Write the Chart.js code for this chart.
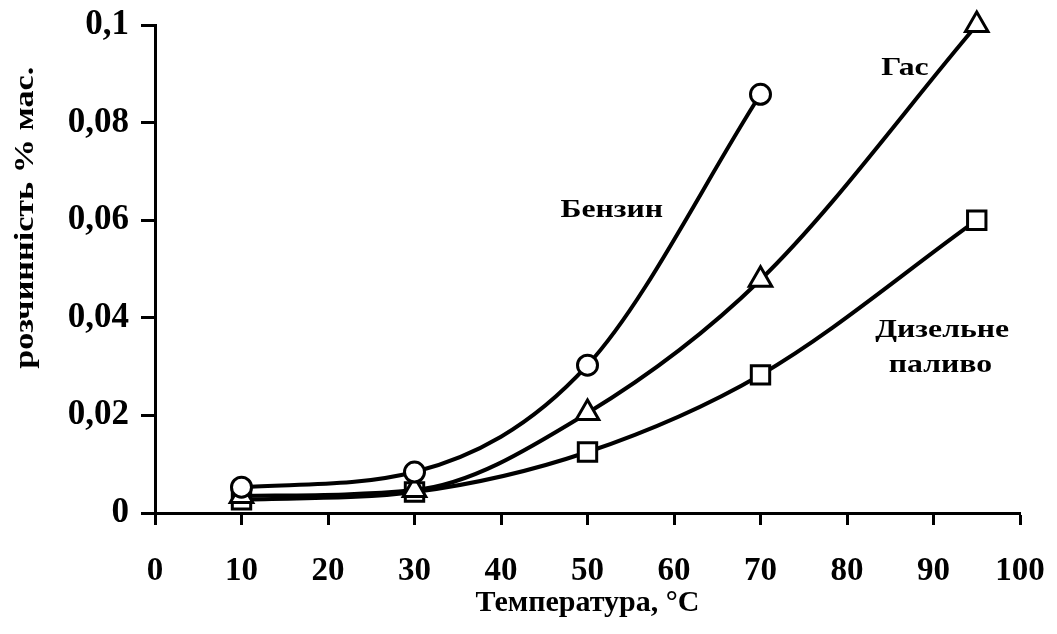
<!DOCTYPE html>
<html>
<head>
<meta charset="utf-8">
<script src="https://cdn.jsdelivr.net/npm/chart.js@4.4.0/dist/chart.umd.min.js"></script>
<style>
  html, body { margin: 0; padding: 0; background: #fff; }
  #wrap { width: 1057px; height: 634px; }
</style>
</head>
<body>
<div id="wrap"><canvas id="solChart" width="1057" height="634"></canvas></div>
<script>
// temperatures, °C
const tempPetrol = [10, 30, 50, 70];
const tempKerosene = [10, 30, 50, 70, 95];
const tempDiesel = [10, 30, 50, 70, 95];

// solubility, % mass
const petrol = [0.0053, 0.0084, 0.0303, 0.0858];
const kerosene = [0.0035, 0.0047, 0.0205, 0.0478, 0.1];
const diesel = [0.0027, 0.0043, 0.0125, 0.0283, 0.060];

const seriesNames = ['Бензин', 'Гас', 'Дизельне паливо'];

// curve labels inside the plot: text, x (°C), y (% mass)
const labelText = ['Бензин', 'Гас', 'Дизельне', 'паливо'];
const labelX = [52.8, 86.7, 91, 90.8];
const labelY = [0.0621, 0.0912, 0.0375, 0.0303];

const xTitle = 'Температура, °C';
const yTitle = 'розчинність % мас.';
const yTitleAt = 0.0605;   // where the rotated title is centred on the value axis

function pts(xs, ys) {
    return xs.map((x, i) => ({ x: x, y: ys[i] }));
}

const serif = '"Liberation Serif", "Times New Roman", serif';

// the scanned original has wide, stretched lettering; draw text a bit wider than the font
function wideText(ctx, text, x, y, stretch, angle) {
    ctx.save();
    ctx.translate(x, y);
    if (angle) ctx.rotate(angle);
    ctx.scale(stretch, 1);
    ctx.fillText(text, 0, 0);
    ctx.restore();
}

const curveLabels = {
    id: 'curveLabels',
    afterDatasetsDraw(chart) {
        const ctx = chart.ctx;
        const xs = chart.scales.x, ys = chart.scales.y;
        ctx.save();
        ctx.fillStyle = '#000';
        ctx.textAlign = 'center';
        ctx.textBaseline = 'middle';
        ctx.font = 'bold 26px ' + serif;
        labelText.forEach((t, i) => {
            wideText(ctx, t, xs.getPixelForValue(labelX[i]), ys.getPixelForValue(labelY[i]), 1.22, 0);
        });
        ctx.font = 'bold 28px ' + serif;
        wideText(ctx, yTitle, 26, ys.getPixelForValue(yTitleAt), 1.22, -Math.PI / 2);
        ctx.restore();
    }
};

function lineSet(label, data, style, r) {
    return {
        label: label,
        data: data,
        borderColor: '#000',
        borderWidth: 4,
        pointStyle: style,
        pointRadius: r,
        pointBorderWidth: 3,
        pointBackgroundColor: '#fff',
        pointBorderColor: '#000',
        cubicInterpolationMode: 'monotone',
        clip: false,
        fill: false
    };
}

new Chart(document.getElementById('solChart').getContext('2d'), {
    type: 'line',
    data: {
        datasets: [
            lineSet(seriesNames[0], pts(tempPetrol, petrol), 'circle', 10),
            lineSet(seriesNames[1], pts(tempKerosene, kerosene), 'triangle', 13),
            lineSet(seriesNames[2], pts(tempDiesel, diesel), 'rect', 13)
        ]
    },
    options: {
        responsive: false,
        animation: false,
        layout: { padding: { left: 48, right: 37, top: 25, bottom: 0 } },
        plugins: { legend: { display: false }, tooltip: { enabled: false } },
        scales: {
            x: {
                type: 'linear',
                min: 0, max: 100,
                afterFit(s) { s.height = 121; s.paddingLeft = 0; s.paddingRight = 0; },
                border: { color: '#000', width: 3 },
                grid: { drawOnChartArea: false, drawTicks: true, tickLength: 12, tickColor: '#000', tickWidth: 3 },
                ticks: { stepSize: 10, color: '#000', padding: 27, maxRotation: 0,
                         font: { family: serif, size: 33, weight: 'bold' } },
                title: { display: true, text: xTitle, color: '#000', padding: { top: 0, bottom: 13 },
                         font: { family: serif, size: 30, weight: 'bold' } }
            },
            y: {
                min: 0, max: 0.1,
                afterFit(s) { s.width = 107; s.paddingTop = 0; s.paddingBottom = 0; },
                border: { color: '#000', width: 3 },
                grid: { drawOnChartArea: false, drawTicks: true, tickLength: 14, tickColor: '#000', tickWidth: 3 },
                ticks: { stepSize: 0.02, color: '#000', padding: 12,
                         font: { family: serif, size: 35, weight: 'bold' },
                         callback: v => v === 0 ? '0' : v.toFixed(2).replace(/0$/, '').replace('.', ',') }
            }
        }
    },
    plugins: [curveLabels]
});
</script>
</body>
</html>
